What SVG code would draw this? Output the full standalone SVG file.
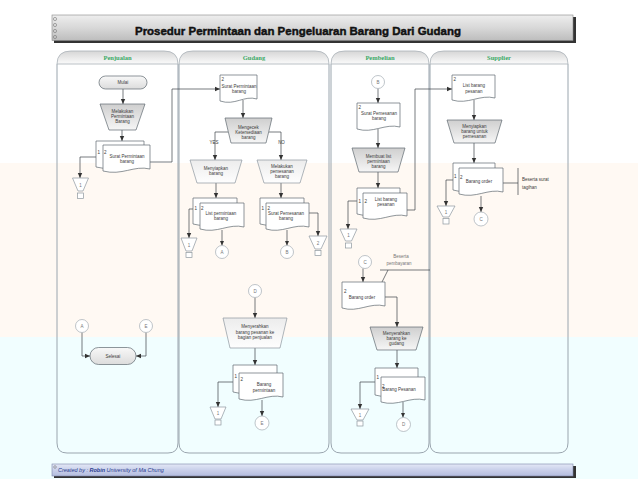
<svg xmlns="http://www.w3.org/2000/svg" width="638" height="479" viewBox="0 0 638 479">
<defs>
<linearGradient id="gTitle" x1="0" y1="0" x2="0" y2="1"><stop offset="0" stop-color="#eeeeee"/><stop offset="0.5" stop-color="#d8d8d8"/><stop offset="1" stop-color="#bdbdbd"/></linearGradient>
<linearGradient id="gFoot" x1="0" y1="0" x2="0" y2="1"><stop offset="0" stop-color="#e4e8f6"/><stop offset="0.5" stop-color="#c9d0ea"/><stop offset="1" stop-color="#b3bddf"/></linearGradient>
<linearGradient id="gHead" x1="0" y1="0" x2="0" y2="1"><stop offset="0" stop-color="#d6d6d6"/><stop offset="1" stop-color="#fbfbfb"/></linearGradient>
<linearGradient id="gProc" x1="0" y1="0" x2="0" y2="1"><stop offset="0" stop-color="#cfcfcf"/><stop offset="1" stop-color="#f6f6f6"/></linearGradient>
<linearGradient id="gProc2" x1="0" y1="0" x2="0" y2="1"><stop offset="0" stop-color="#ececec"/><stop offset="1" stop-color="#fefefe"/></linearGradient>
<linearGradient id="gTerm" x1="0" y1="0" x2="0" y2="1"><stop offset="0" stop-color="#f8f8f8"/><stop offset="1" stop-color="#dcdcdc"/></linearGradient>
<marker id="ah" markerWidth="6" markerHeight="6" refX="5" refY="3" orient="auto" markerUnits="userSpaceOnUse"><path d="M0,0.8 L5,3 L0,5.2 z" fill="#333"/></marker>
</defs>
<style>
.lane{fill:none;stroke:#9aa5ae;stroke-width:1}
.head{fill:url(#gHead);stroke:#a9b1b8;stroke-width:0.8}
.ht{font-family:"Liberation Serif",serif;font-weight:bold;font-size:6.5px;fill:#3aa866;text-anchor:middle}
.doc{fill:#fff;stroke:#5e6870;stroke-width:0.7}
.proc{fill:url(#gProc);stroke:#5e6870;stroke-width:0.7}
.proc2{fill:url(#gProc2);stroke:#8d979f;stroke-width:0.7}
.term{fill:url(#gTerm);stroke:#5e6870;stroke-width:0.7}
.circ{fill:#fff;stroke:#a3acb3;stroke-width:0.7}
.file{fill:#fff;stroke:#8d979f;stroke-width:0.7}
.t{font-family:"Liberation Sans",Arial,sans-serif;font-size:4.5px;fill:#3a3a3a;text-anchor:middle}
.tl{font-family:"Liberation Sans",Arial,sans-serif;font-size:4.5px;fill:#3a3a3a}
.tf{font-family:"Liberation Sans",Arial,sans-serif;font-size:4.5px;fill:#777;text-anchor:middle}
.c{fill:none;stroke:#3c4248;stroke-width:0.7}
.ca{fill:none;stroke:#3c4248;stroke-width:0.7;marker-end:url(#ah)}
</style>
<rect x="0" y="0" width="638" height="479" fill="#ffffff"/>
<rect x="0" y="163" width="638" height="174" fill="#fff9f3"/>
<rect x="0" y="337" width="638" height="142" fill="#f1feff"/>

<g id="title">
<rect x="54" y="17" width="522" height="26" fill="#333"/>
<rect x="52" y="15" width="521" height="25.5" fill="url(#gTitle)" stroke="#888" stroke-width="0.6"/>
<g fill="none" stroke="#777" stroke-width="0.6"><circle cx="55" cy="19" r="1.6"/><circle cx="55" cy="25" r="1.6"/><circle cx="55" cy="31" r="1.6"/><circle cx="55" cy="37" r="1.6"/></g>
<text x="298" y="35" font-family="Liberation Sans,Arial,sans-serif" font-weight="bold" font-size="11.5" text-anchor="middle" textLength="326" lengthAdjust="spacingAndGlyphs" fill="#111" stroke="#111" stroke-width="0.45">Prosedur Permintaan dan Pengeluaran Barang Dari Gudang</text>
</g>

<g id="lanes">
<g id="lane-penjualan">
<path class="lane" d="M57 64 V443 Q57 453 67 453 H168 Q178 453 178 443 V64"/>
<path class="head" d="M57 64 V64 Q57 51 71 51 H164 Q178 51 178 64 Z"/>
<text class="ht" x="117.5" y="59.5">Penjualan</text>
</g>
<g id="lane-gudang">
<path class="lane" d="M179 64 V443 Q179 453 189 453 H319 Q329 453 329 443 V64"/>
<path class="head" d="M179 64 Q179 51 193 51 H315 Q329 51 329 64 Z"/>
<text class="ht" x="254" y="59.5">Gudang</text>
</g>
<g id="lane-pembelian">
<path class="lane" d="M331 64 V443 Q331 453 341 453 H419 Q429 453 429 443 V64"/>
<path class="head" d="M331 64 Q331 51 345 51 H415 Q429 51 429 64 Z"/>
<text class="ht" x="380" y="59.5">Pembelian</text>
</g>
<g id="lane-supplier">
<path class="lane" d="M430 64 V443 Q430 453 440 453 H558 Q568 453 568 443 V64"/>
<path class="head" d="M430 64 Q430 51 444 51 H554 Q568 51 568 64 Z"/>
<text class="ht" x="499" y="59.5">Supplier</text>
</g>
</g>

<g id="connectors">
<path class="ca" d="M123 89 V104"/>
<path class="ca" d="M122 130 V141"/>
<path class="ca" d="M96 157 H80 V178"/>
<path class="ca" d="M150 162 H172 V89 H220"/>
<path class="ca" d="M243 100 V118"/>
<path class="ca" d="M228 132 H215 V160"/>
<path class="ca" d="M269 132 H281 V160"/>
<path class="ca" d="M216 183 V198"/>
<path class="ca" d="M281 183 V198"/>
<path class="ca" d="M193 209 H189 V238"/>
<path class="ca" d="M222 230 V245.5"/>
<path class="ca" d="M303 213 H318 V236"/>
<path class="ca" d="M287 230 V245.5"/>
<path class="ca" d="M255 297.5 V318"/>
<path class="ca" d="M255 348 V365"/>
<path class="ca" d="M233 382 H218 V407"/>
<path class="ca" d="M262 400 V416"/>
<path class="ca" d="M82 332.5 V356 H90"/>
<path class="ca" d="M146 332.5 V356 H136"/>
<path class="ca" d="M378 88.5 V103"/>
<path class="ca" d="M378 129 V148"/>
<path class="ca" d="M378 172 V188"/>
<path class="ca" d="M357 201 H348 V229"/>
<path class="ca" d="M407 210 H415 V89 H452"/>
<path class="ca" d="M363 268.5 V282"/>
<path class="c" d="M380 270 H430 M388 270 L382 282"/>
<path class="ca" d="M385 297 H397 V327"/>
<path class="ca" d="M397 350 V368"/>
<path class="ca" d="M375 382 H360 V409"/>
<path class="ca" d="M403 402 V417.5"/>
<path class="ca" d="M474 100 V120"/>
<path class="ca" d="M474 143 V163"/>
<path class="c" d="M503 183 H518 M518 168 V195"/>
<path class="ca" d="M453 180 H446 V206"/>
<path class="ca" d="M481 196 V212"/>
</g>

<g id="n-mulai"><rect class="term" x="99" y="76" width="48" height="13" rx="6.5"/><text class="t" x="123" y="84.2">Mulai</text></g>
<g id="n-melakukan-permintaan"><polygon class="proc" points="100,104 145,104 136,130 109,130"/><text class="t" x="122.5" y="112.5">Melakukan</text><text class="t" x="122.5" y="117.5">Permintaan</text><text class="t" x="122.5" y="122.5">Barang</text></g>
<g id="n-surat-permintaan-pj">
<path class="doc" d="M96 141 h48 v24 c-17 -4 -29 7 -48 2 z"/>
<path class="doc" d="M103 145 h47 v24 c-16 -4 -28 7 -47 2 z"/>
<text class="tl" x="97.5" y="154">1</text><text class="tl" x="104" y="154">2</text>
<text class="t" x="127" y="158">Surat Permintaan</text><text class="t" x="127" y="163">barang</text>
</g>
<g id="n-file-pj"><polygon class="file" points="72.5,178 88.5,178 83,191 78,191"/><rect class="file" x="77.5" y="193" width="6" height="5.5"/><text class="tf" x="80.5" y="187">1</text></g>
<g id="n-circ-a-pj"><circle class="circ" cx="82" cy="326" r="6.5"/><text class="tf" x="82" y="327.6">A</text></g>
<g id="n-circ-e-pj"><circle class="circ" cx="146" cy="326" r="6.5"/><text class="tf" x="146" y="327.6">E</text></g>
<g id="n-selesai"><rect class="term" x="90" y="347.5" width="46" height="17" rx="8.5"/><text class="t" x="113" y="357.6">Selesai</text></g>

<g id="n-surat-permintaan-gd"><path class="doc" d="M220 75 h37 v24 c-13 -4 -22 7 -37 2 z"/><text class="tl" x="221.5" y="80.5">2</text><text class="t" x="239" y="88">Surat Permintaan</text><text class="t" x="239" y="93">barang</text></g>
<g id="n-mengecek"><polygon class="proc" points="225,118 272,118 266,143 231,143"/><text class="t" x="248.5" y="128.5">Mengecek</text><text class="t" x="248.5" y="133.5">Ketersediaan</text><text class="t" x="248.5" y="138.5">barang</text></g>
<text class="t" x="214" y="143.5">YES</text>
<text class="t" x="281.5" y="143.5">NO</text>
<g id="n-menyiapkan"><polygon class="proc2" points="190,160 242,160 235,183 197,183"/><text class="t" x="216" y="169.5">Menyiapkan</text><text class="t" x="216" y="174.5">barang</text></g>
<g id="n-melakukan-pemesanan"><polygon class="proc2" points="257,160 307,160 300,183 264,183"/><text class="t" x="282" y="168">Melakukan</text><text class="t" x="282" y="173">pemesanan</text><text class="t" x="282" y="178">barang</text></g>
<g id="n-list-permintaan">
<path class="doc" d="M193 198 h44 v24 c-15 -4 -27 7 -44 2 z"/>
<path class="doc" d="M200 203 h44 v24 c-15 -4 -27 7 -44 2 z"/>
<text class="tl" x="194.5" y="210">1</text><text class="tl" x="201" y="210">2</text>
<text class="t" x="221" y="214.5">List permintaan</text><text class="t" x="221" y="220">barang</text>
</g>
<g id="n-file-gd1"><polygon class="file" points="181,238 197,238 192,251 186,251"/><rect class="file" x="186" y="252.5" width="6" height="5"/><text class="tf" x="189" y="246.5">1</text></g>
<g id="n-circ-a-gd"><circle class="circ" cx="222" cy="252" r="6.5"/><text class="tf" x="222" y="253.6">A</text></g>
<g id="n-surat-pemesanan-gd">
<path class="doc" d="M260 198 h44 v24 c-15 -4 -27 7 -44 2 z"/>
<path class="doc" d="M266 203 h43 v24 c-15 -4 -27 7 -43 2 z"/>
<text class="tl" x="261.5" y="210">1</text><text class="tl" x="267.5" y="210">2</text>
<text class="t" x="286" y="214.5">Surat Pemesanan</text><text class="t" x="286" y="220">barang</text>
</g>
<g id="n-circ-b-gd"><circle class="circ" cx="287" cy="252" r="6.5"/><text class="tf" x="287" y="253.6">B</text></g>
<g id="n-file-gd2"><polygon class="file" points="309,236 327,236 321,249 315,249"/><rect class="file" x="315" y="250.5" width="6" height="5"/><text class="tf" x="318" y="245">2</text></g>
<g id="n-circ-d-gd"><circle class="circ" cx="255" cy="291" r="6.5"/><text class="tf" x="255" y="292.6">D</text></g>
<g id="n-menyerahkan-pj"><polygon class="proc2" points="223,318 287,318 280,348 230,348"/><text class="t" x="255" y="328">Menyerahkan</text><text class="t" x="255" y="333.5">barang pesanan ke</text><text class="t" x="255" y="339">bagian penjualan</text></g>
<g id="n-barang-permintaan">
<path class="doc" d="M233 365 h44 v25 c-15 -4 -27 7 -44 2 z"/>
<path class="doc" d="M239 373 h44 v24 c-15 -4 -27 7 -44 2 z"/>
<text class="tl" x="234.5" y="378">1</text><text class="tl" x="240.5" y="381">2</text>
<text class="t" x="264" y="386">Barang</text><text class="t" x="264" y="391.5">permintaan</text>
</g>
<g id="n-file-gd3"><polygon class="file" points="210,407 226,407 221,419 215,419"/><rect class="file" x="215" y="420" width="6" height="5"/><text class="tf" x="218" y="415">1</text></g>
<g id="n-circ-e-gd"><circle class="circ" cx="262" cy="423" r="7"/><text class="tf" x="262" y="424.6">E</text></g>

<g id="n-circ-b-pb"><circle class="circ" cx="378" cy="82" r="6.5"/><text class="tf" x="378" y="83.6">B</text></g>
<g id="n-surat-pemesanan-pb"><path class="doc" d="M357 103 h43 v24 c-15 -4 -27 7 -43 2 z"/><text class="tl" x="358.5" y="109">2</text><text class="t" x="379" y="114.5">Surat Pemesanan</text><text class="t" x="379" y="120">barang</text></g>
<g id="n-membuat-list"><polygon class="proc" points="352,148 405,148 398,172 359,172"/><text class="t" x="378.5" y="157.5">Membuat list</text><text class="t" x="378.5" y="162.5">permintaan</text><text class="t" x="378.5" y="167.5">barang</text></g>
<g id="n-list-barang-pesanan-pb">
<path class="doc" d="M357 188 h43 v24 c-15 -4 -27 7 -43 2 z"/>
<path class="doc" d="M363 193 h44 v23 c-15 -4 -27 7 -44 2 z"/>
<text class="tl" x="358.5" y="203">1</text><text class="tl" x="364.5" y="203">2</text>
<text class="t" x="386" y="200.5">List barang</text><text class="t" x="386" y="206">pesanan</text>
</g>
<g id="n-file-pb1"><polygon class="file" points="340,229 357,229 351.5,241 345.5,241"/><rect class="file" x="345.5" y="243" width="6" height="5"/><text class="tf" x="348.5" y="237">1</text></g>
<g id="n-circ-c-pb"><circle class="circ" cx="365" cy="262" r="6.5"/><text class="tf" x="365" y="263.6">C</text></g>
<g id="n-note-pembayaran"><text class="tf" x="401" y="257.5">Beserta</text><text class="tf" x="399" y="265">pembayaran</text></g>
<g id="n-barang-order-pb"><path class="doc" d="M342 282 h43 v24 c-15 -4 -27 7 -43 2 z"/><text class="tl" x="344" y="293">2</text><text class="t" x="362" y="298.5">Barang order</text></g>
<g id="n-menyerahkan-gd"><polygon class="proc" points="370,327 423,327 416,350 377,350"/><text class="t" x="396.5" y="334.5">Menyerahkan</text><text class="t" x="396.5" y="339.5">barang ke</text><text class="t" x="396.5" y="344.5">gudang</text></g>
<g id="n-barang-pesanan">
<path class="doc" d="M375 368 h43 v25 c-15 -4 -27 7 -43 2 z"/>
<path class="doc" d="M381 377 h44 v23 c-15 -4 -27 7 -44 2 z"/>
<text class="tl" x="376.5" y="378.5">1</text><text class="tl" x="382" y="387.5">2</text>
<text class="t" x="399" y="391">Barang Pesanan</text>
</g>
<g id="n-file-pb2"><polygon class="file" points="351,409 369,409 363,420 357,420"/><rect class="file" x="357" y="421" width="6" height="5"/><text class="tf" x="360" y="416.5">1</text></g>
<g id="n-circ-d-pb"><circle class="circ" cx="403.5" cy="424.5" r="7"/><text class="tf" x="403.5" y="426.1">D</text></g>

<g id="n-list-barang-pesanan-sp"><path class="doc" d="M452 75 h43 v23 c-15 -4 -27 7 -43 2 z"/><text class="tl" x="453.5" y="81">2</text><text class="t" x="474" y="87">List barang</text><text class="t" x="474" y="92.5">pesanan</text></g>
<g id="n-menyiapkan-sp"><polygon class="proc" points="447,120 502,120 495,143 454,143"/><text class="t" x="474.5" y="128">Menyiapkan</text><text class="t" x="474.5" y="133">barang untuk</text><text class="t" x="474.5" y="138">pemesanan</text></g>
<g id="n-barang-order-sp">
<path class="doc" d="M453 163 h42 v25 c-15 -4 -27 7 -42 2 z"/>
<path class="doc" d="M459 168 h44 v24 c-15 -4 -27 7 -44 2 z"/>
<text class="tl" x="454" y="177.5">1</text><text class="tl" x="460" y="179">2</text>
<text class="t" x="479" y="183">Barang order</text>
</g>
<g id="n-note-tagihan"><text class="tl" x="522" y="181" fill="#777">Beserta surat</text><text class="tl" x="522" y="188.5" fill="#777">tagihan</text></g>
<g id="n-file-sp"><polygon class="file" points="437,206 455,206 449,217 443,217"/><rect class="file" x="443" y="218.5" width="6" height="5.5"/><text class="tf" x="446" y="213.5">1</text></g>
<g id="n-circ-c-sp"><circle class="circ" cx="481" cy="219" r="7"/><text class="tf" x="481" y="220.6">C</text></g>

<g id="footer">
<rect x="54" y="466" width="522" height="12" fill="#333"/>
<rect x="52" y="464" width="521" height="12" fill="url(#gFoot)" stroke="#7c86a8" stroke-width="0.6"/>
<circle cx="55" cy="467" r="1.3" fill="none" stroke="#666" stroke-width="0.5"/>
<text x="58" y="472.2" font-family="Liberation Sans,Arial,sans-serif" font-style="italic" font-size="5.5" fill="#2a3d8f">Created  by  :  <tspan font-weight="bold">Robin</tspan> University of Ma Chung</text>
</g>
</svg>
